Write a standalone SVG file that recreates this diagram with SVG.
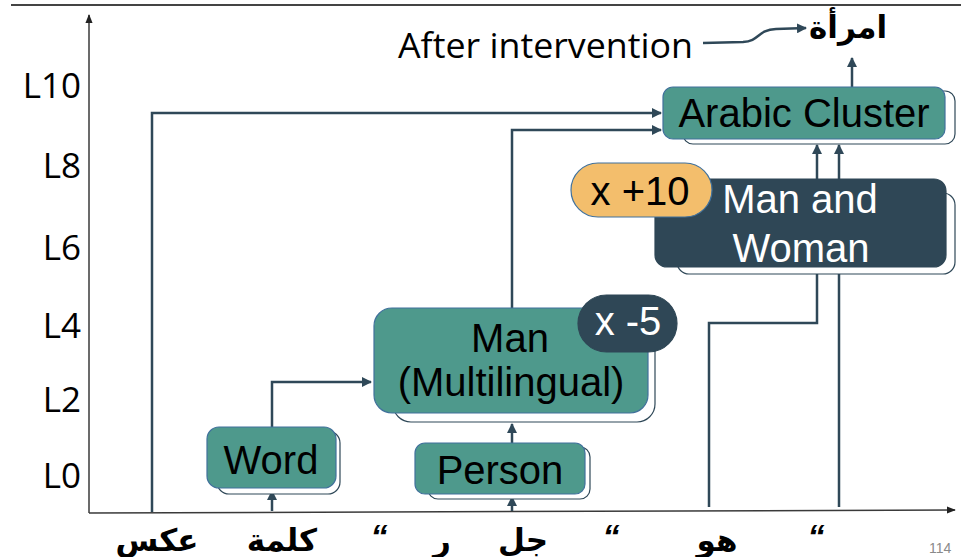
<svg xmlns="http://www.w3.org/2000/svg" width="961" height="557" viewBox="0 0 961 557">
  <style>
    .axis { stroke: #3a3a3a; stroke-width: 1.5; fill: none; }
    .lvl { font-family: "Open Sans", "Liberation Sans", sans-serif; font-size: 35px; fill: #000; text-anchor: end; }
    .conn { stroke: #2f4858; stroke-width: 2.5; fill: none; }
    .shadow { fill: #ffffff; stroke: #2f4858; stroke-width: 1.2; }
    .teal { fill: #4e998c; stroke: #41719c; stroke-width: 1.2; }
    .dark { fill: #2f4756; stroke: #2f4756; stroke-width: 1.2; }
    .gold { fill: #f3be6c; stroke: #41719c; stroke-width: 1.2; }
    .lbl { font-family: "Liberation Sans", Arial, sans-serif; font-size: 40px; text-anchor: middle; fill: #000; }
    .lbl-w { font-family: "Liberation Sans", Arial, sans-serif; font-size: 40px; text-anchor: middle; fill: #fff; }
    .ar { font-family: "DejaVu Sans", "Noto Sans", sans-serif; font-weight: bold; font-size: 31px; fill: #000; text-anchor: middle; }
    .quote { font-family: "Liberation Sans", Arial, sans-serif; font-weight: bold; font-style: italic; font-size: 34px; fill: #000; text-anchor: middle; }
  </style>
  <defs>
    <marker id="tip" viewBox="0 0 10 10" refX="9" refY="5" markerWidth="4" markerHeight="4" orient="auto" markerUnits="strokeWidth">
      <path d="M0,0 L10,5 L0,10 z" fill="#2f4858"/>
    </marker>
    <marker id="axtip" viewBox="0 0 10 10" refX="9" refY="5" markerWidth="6" markerHeight="6" orient="auto" markerUnits="strokeWidth">
      <path d="M0,1 L10,5 L0,9 z" fill="#222"/>
    </marker>
  </defs>

  <rect width="961" height="557" fill="#ffffff"/>

  <!-- header rule -->
  <line x1="11" y1="5" x2="961" y2="5" stroke="#444" stroke-width="2"/>

  <!-- axes -->
  <g id="axes">
    <line class="axis" x1="89" y1="513" x2="89" y2="15" marker-end="url(#axtip)"/>
    <line class="axis" x1="89" y1="513" x2="955" y2="510" marker-end="url(#axtip)"/>
  </g>

  <!-- layer labels -->
  <g id="levels">
    <text class="lvl" x="81" y="98">L10</text>
    <text class="lvl" x="81" y="178">L8</text>
    <text class="lvl" x="81" y="260">L6</text>
    <text class="lvl" x="81" y="338">L4</text>
    <text class="lvl" x="81" y="412">L2</text>
    <text class="lvl" x="81" y="488">L0</text>
  </g>

  <!-- input tokens -->
  <g id="tokens">
    <text class="ar" x="157" y="551">عكس</text>
    <text class="ar" x="282" y="551">كلمة</text>
    <text class="quote" x="379" y="548">“</text>
    <text class="ar" x="442" y="551">ر</text>
    <text class="ar" x="523" y="551">جل</text>
    <text class="quote" x="611" y="548">“</text>
    <text class="ar" x="717" y="551">هو</text>
    <text class="quote" x="816" y="548">“</text>
    <text x="929" y="553" font-family="Liberation Sans, Arial, sans-serif" font-size="14" fill="#8a8a8a">114</text>
  </g>

  <!-- connectors -->
  <g id="connectors">
    <path class="conn" d="M152,512 V113 H661" marker-end="url(#tip)"/>
    <path class="conn" d="M272,511 V491" marker-end="url(#tip)"/>
    <path class="conn" d="M272,427 V382 H371" marker-end="url(#tip)"/>
    <path class="conn" d="M512,511 V497" marker-end="url(#tip)"/>
    <path class="conn" d="M512,443 V424" marker-end="url(#tip)"/>
    <path class="conn" d="M512,308 V130 H661" marker-end="url(#tip)"/>
    <path class="conn" d="M709,507 V323 H817 V145" marker-end="url(#tip)"/>
    <path class="conn" d="M839,507 V145" marker-end="url(#tip)"/>
    <path class="conn" d="M852,87 V58" marker-end="url(#tip)"/>
    <path class="conn" d="M703,43 L743,42 C760,41 757,30 776,29 L806,28" marker-end="url(#tip)"/>
  </g>

  <!-- nodes -->
  <g id="node-word">
    <rect class="shadow" x="217" y="431" width="123" height="63" rx="12"/>
    <rect class="teal" x="207" y="427" width="129" height="61" rx="12"/>
    <text class="lbl" x="271" y="474">Word</text>
  </g>

  <g id="node-person">
    <rect class="shadow" x="428" y="447" width="162" height="52" rx="10"/>
    <rect class="teal" x="415" y="443" width="170" height="51" rx="10"/>
    <text class="lbl" x="500" y="484">Person</text>
  </g>

  <g id="node-man">
    <rect class="shadow" x="393" y="318" width="262" height="104" rx="18"/>
    <rect class="teal" x="374" y="308" width="274" height="105" rx="18"/>
    <text class="lbl" x="510" y="352">Man</text>
    <text class="lbl" x="511" y="396">(Multilingual)</text>
  </g>

  <g id="badge-minus5">
    <rect class="dark" x="578" y="295" width="99" height="57" rx="28.5"/>
    <text class="lbl-w" x="628" y="335" font-size="36">x -5</text>
  </g>

  <g id="node-man-woman">
    <rect class="shadow" x="677" y="193" width="278" height="81" rx="12"/>
    <rect class="dark" x="655" y="179" width="291" height="88" rx="12"/>
    <text class="lbl-w" x="800" y="213">Man and</text>
    <text class="lbl-w" x="801" y="262">Woman</text>
  </g>

  <g id="badge-plus10">
    <rect class="gold" x="571" y="163" width="141" height="54" rx="27"/>
    <text class="lbl" x="640" y="205">x +10</text>
  </g>

  <g id="node-arabic-cluster">
    <rect class="shadow" x="683" y="91" width="272" height="53" rx="10"/>
    <rect class="teal" x="663" y="87" width="282" height="52" rx="10"/>
    <text class="lbl" x="804" y="127">Arabic Cluster</text>
  </g>

  <!-- output side -->
  <g id="output">
    <text x="398" y="58" font-family="Open Sans, Liberation Sans, sans-serif" font-size="35" fill="#000" textLength="295" lengthAdjust="spacingAndGlyphs">After intervention</text>
    <text class="ar" x="848" y="38">امرأة</text>
  </g>
</svg>
